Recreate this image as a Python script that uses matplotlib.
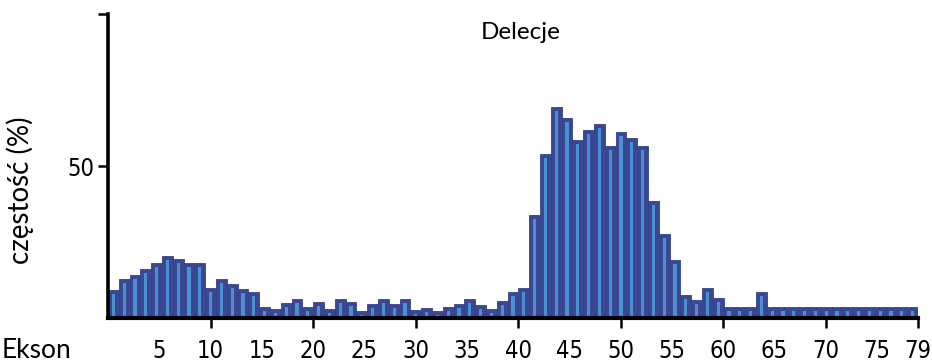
import matplotlib
matplotlib.use('Agg')
import matplotlib.pyplot as plt
from matplotlib import font_manager
import numpy as np

# deletion frequency per bar (%)
freq = [9.3, 12.8, 14.1, 16.0, 18.1, 20.3, 19.4, 18.1, 18.1, 10.0,
        12.8, 11.1, 9.5, 8.4, 3.5, 2.9, 4.9, 6.2, 3.7, 5.4,
        2.9, 6.2, 5.1, 2.4, 4.6, 6.2, 4.5, 6.2, 2.6, 3.4,
        2.3, 3.5, 4.5, 6.2, 4.3, 2.9, 5.7, 8.4, 9.8, 33.9,
        54.0, 69.4, 65.9, 58.4, 61.9, 63.9, 56.7, 61.1, 59.3, 56.7,
        38.5, 27.5, 19.0, 7.6, 6.0, 10.0, 6.5, 3.5, 3.5, 3.5,
        8.4, 3.5, 3.5, 3.5, 3.5, 3.5, 3.5, 3.5, 3.5, 3.5,
        3.5, 3.5, 3.5, 3.5, 3.5]
exon_labels = [5, 10, 15, 20, 25, 30, 35, 40, 45, 50, 55, 60, 65, 70, 75, 79]
exon_ticks = [10, 20, 30, 40, 50, 60, 70, 79]
n_exons = 79

dark = '#3a4893'
light = '#4b90d2'

installed = {f.name for f in font_manager.fontManager.ttflist}
if 'Liberation Sans Narrow' in installed:
    num_font = dict(family='Liberation Sans Narrow')
else:
    num_font = dict(family='DejaVu Sans', stretch='condensed')
label_font = 'Lato' if 'Lato' in installed else 'Open Sans'

fig = plt.figure(figsize=(9.32, 3.62), dpi=100)
ax = fig.add_axes([108 / 932, 44 / 362, 810 / 932, 304 / 362])

n = len(freq)
w = n_exons / n
left = np.arange(n) * w
ax.bar(left, freq, width=w, align='edge', color=dark, edgecolor='#34428c', linewidth=0.6, zorder=2)
stripe_top = np.array(freq) - 1.3
ax.bar(left + w / 2, stripe_top, width=w * 0.3, align='center', color=light, linewidth=0, zorder=3)

ax.set_xlim(0, n_exons)
ax.set_ylim(0, 100)

for s in ['top', 'right']:
    ax.spines[s].set_visible(False)
ax.spines['left'].set_linewidth(2.6)
ax.spines['bottom'].set_linewidth(3.0)
ax.spines['bottom'].set_zorder(4)

ax.set_yticks([50, 100])
ax.set_yticklabels(['50', ''])
ax.tick_params(axis='y', length=7, width=1.8, pad=3, labelsize=17)

# labels every 5 exons, tick marks only every 10
ax.xaxis.remove_overlapping_locs = False
ax.set_xticks(exon_labels)
ax.set_xticklabels([str(v) for v in exon_labels])
ax.tick_params(axis='x', which='major', length=0, pad=15, labelsize=17)
ax.set_xticks(exon_ticks, minor=True)
ax.tick_params(axis='x', which='minor', length=7, width=1.8)

for lbl in ax.get_xticklabels() + ax.get_yticklabels():
    lbl.set_fontfamily(num_font['family'])
    if 'stretch' in num_font:
        lbl.set_fontstretch(num_font['stretch'])

ax.set_ylabel('częstość (%)', fontsize=20, family=label_font)
ax.yaxis.set_label_coords(-0.091, 0.42)
ax.set_title('Delecje', fontsize=17.5, family=label_font, pad=-18, y=1.0, x=0.51)
fig.text(0.002, 0.012, 'Ekson', fontsize=19, family=label_font, ha='left', va='baseline')

fig.savefig('out.png', dpi=100)
